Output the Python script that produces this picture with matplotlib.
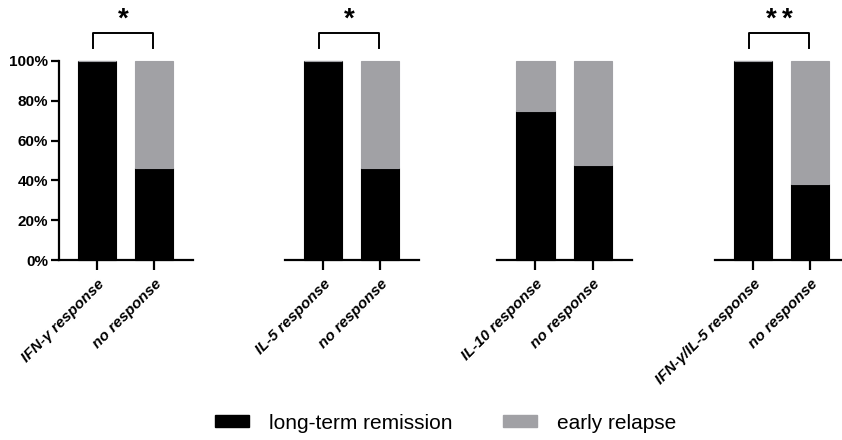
import numpy as np
import matplotlib
matplotlib.use('Agg')
import matplotlib.pyplot as plt
from matplotlib.patches import Patch

plt.rcParams['font.family'] = ['Liberation Sans', 'DejaVu Sans']

# data: share of long-term remission per group (rest = early relapse)
groups = [
    ['IFN-γ response', 'no response'],
    ['IL-5 response', 'no response'],
    ['IL-10 response', 'no response'],
    ['IFN-γ/IL-5 response', 'no response'],
]
remission = [
    [100, 46],
    [100, 46],
    [75, 47.6],
    [100, 38],
]
stars = [1, 1, 0, 2]
yticks = [0, 20, 40, 60, 80, 100]

black = '#000000'
grey = '#a1a1a5'

W, H = 842, 440
fig = plt.figure(figsize=(W / 100, H / 100), dpi=100)

# panel left/right edges in pixels
panel_px = [(59, 193), (285, 419), (497, 632), (715, 849)]
y0_px, y1_px = 260, 61

for i, (l, r) in enumerate(panel_px):
    ax = fig.add_axes([l / W, 1 - y0_px / H, (r - l) / W, (y0_px - y1_px) / H])
    rem = np.array(remission[i])
    rel = 100 - rem
    x = np.arange(2)
    ax.bar(x, rem, width=0.67, color=black, edgecolor=black, linewidth=0.8, clip_on=False)
    ax.bar(x, rel, width=0.67, bottom=rem, color=grey, edgecolor=grey, linewidth=0.8, clip_on=False)
    ax.set_xlim(-0.67, 1.68)
    ax.set_ylim(0, 100)
    for s in ['top', 'right']:
        ax.spines[s].set_visible(False)
    ax.spines['bottom'].set_linewidth(1.6)
    ax.spines['left'].set_linewidth(1.6)
    ax.set_xticks(x)
    ax.set_xticklabels(groups[i], rotation=45, ha='right', rotation_mode='anchor',
                       fontsize=11, fontweight='bold', fontstyle='italic')
    ax.tick_params(axis='x', length=7, width=1.6, pad=5)
    if i == 0:
        ax.set_yticks(yticks)
        ax.set_yticklabels([f'{v}%' for v in yticks], fontsize=11, fontweight='bold')
        ax.tick_params(axis='y', length=6, width=1.6, pad=2)
    else:
        ax.spines['left'].set_visible(False)
        ax.set_yticks([])
    if stars[i]:
        bx0, bx1 = -0.07, 0.97
        ax.plot([bx0, bx0, bx1, bx1], [106.5, 114, 114, 106.5], color='black',
                linewidth=1.4, clip_on=False)
        mid = (bx0 + bx1) / 2
        offs = [0] if stars[i] == 1 else [-0.14, 0.14]
        for o in offs:
            ax.text(mid + o, 114.5, '*', ha='center', va='bottom',
                    fontsize=20, fontweight='bold', clip_on=False)

handles = [Patch(facecolor=black, edgecolor=black, label='long-term remission'),
           Patch(facecolor=grey, edgecolor=grey, label='early relapse')]
fig.legend(handles=handles, loc='center', bbox_to_anchor=(0.529, 1 - 423 / H), ncol=2,
           frameon=False, fontsize=15, handlelength=1.63, handleheight=0.53,
           handletextpad=0.96, columnspacing=2.4)

fig.savefig('out.png', dpi=100)
